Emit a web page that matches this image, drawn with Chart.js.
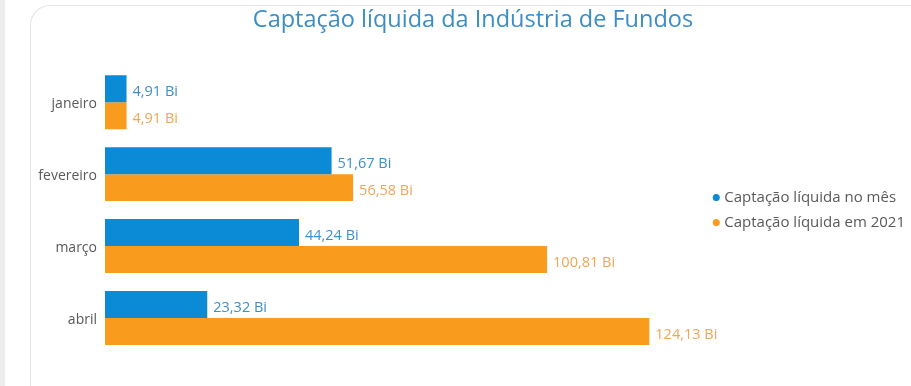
<!DOCTYPE html>
<html>
<head>
<meta charset="utf-8">
<script src="https://cdn.jsdelivr.net/npm/chart.js@4/dist/chart.umd.min.js"></script>
<style>
  html, body { margin: 0; padding: 0; background: #fff; width: 911px; height: 386px; overflow: hidden; }
  #strip { position: absolute; left: 0; top: 0; width: 5px; height: 386px; background: #ececec; }
  #card { position: absolute; left: 30px; top: 5px; width: 900px; height: 400px;
          border-left: 1px solid #e4e4e4; border-top: 1px solid #e4e4e4; border-top-left-radius: 20px; }
  #myChart { position: absolute; left: 31px; top: 6px; }
</style>
</head>
<body>
<div id="strip"></div>
<div id="card"></div>
<canvas id="myChart" width="884" height="380"></canvas>
<script>
var months = ["janeiro", "fevereiro", "março", "abril"];
var captacaoMes = [4.91, 51.67, 44.24, 23.32];
var captacaoAno = [4.91, 56.58, 100.81, 124.13];
var seriesNames = ["Captação líquida no mês", "Captação líquida em 2021"];

var FONT = "'Open Sans', sans-serif";

// labels at the end of each bar
var barLabels = {
	id: 'barLabels',
	afterDatasetsDraw: function (chart) {
		var ctx = chart.ctx;
		ctx.save();
		ctx.font = "14.5px " + FONT;
		ctx.textAlign = 'left';
		ctx.textBaseline = 'middle';
		chart.data.datasets.forEach(function (ds, i) {
			var meta = chart.getDatasetMeta(i);
			meta.data.forEach(function (bar, j) {
				ctx.fillStyle = ds.labelColor;
				ctx.fillText(ds.data[j].toFixed(2).replace('.', ',') + ' Bi', bar.x + 6, bar.y + 3);
			});
		});
		ctx.restore();
	}
};

var ctx = document.getElementById('myChart').getContext('2d');
var chart = new Chart(ctx, {
	type: 'bar',
	data: {
		labels: months,
		datasets: [{
			label: seriesNames[0],
			data: captacaoMes,
			backgroundColor: '#0b8ad6',
			labelColor: '#3d8fca',
			borderWidth: 0
		}, {
			label: seriesNames[1],
			data: captacaoAno,
			backgroundColor: '#f99b1c',
			labelColor: '#f0a656',
			borderWidth: 0
		}]
	},
	options: {
		indexAxis: 'y',
		responsive: false,
		animation: false,
		devicePixelRatio: 1,
		layout: { padding: { left: 0, right: 0, top: 0, bottom: 32 } },
		datasets: {
			bar: { categoryPercentage: 0.75, barPercentage: 1 }
		},
		scales: {
			x: { display: false, min: 0, max: 137 },
			y: {
				grid: { display: false },
				border: { display: false },
				ticks: { color: '#595959', font: { family: FONT, size: 14 }, padding: 0, labelOffset: 2 },
				afterFit: function (scale) { scale.width = 74; }
			}
		},
		plugins: {
			title: {
				display: true,
				text: 'Captação líquida da Indústria de Fundos',
				color: '#3a8dc6',
				font: { family: FONT, size: 23.5, weight: 'normal' },
				padding: { top: 0, bottom: 32 }
			},
			legend: {
				position: 'right',
				fullSize: false,
				labels: {
					usePointStyle: true,
					pointStyle: 'circle',
					boxWidth: 1,
					boxHeight: 5,
					padding: 10,
					color: '#595959',
					font: { family: FONT, size: 15 }
				}
			},
			tooltip: { enabled: false }
		}
	},
	plugins: [barLabels]
});
</script>
</body>
</html>
